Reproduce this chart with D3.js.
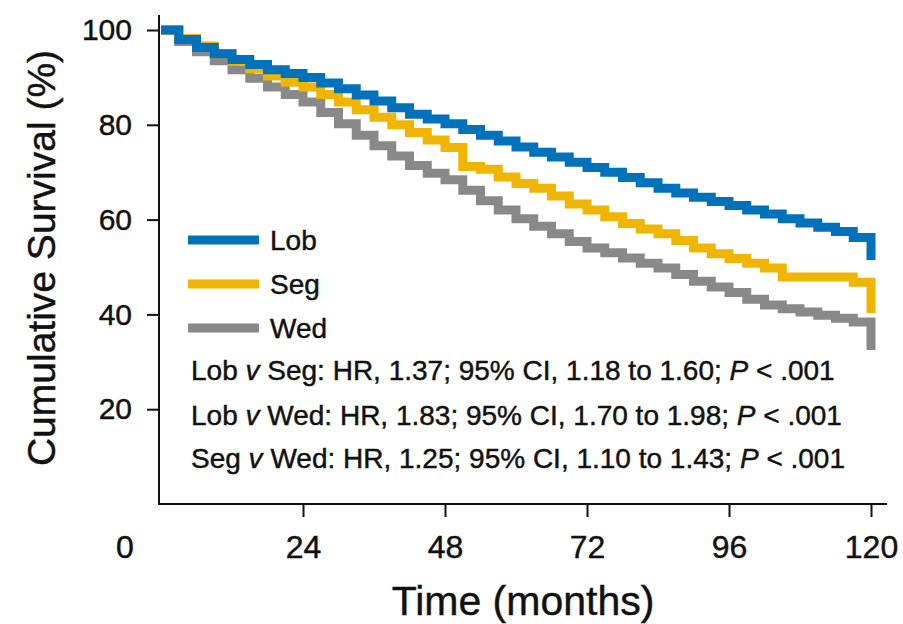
<!DOCTYPE html>
<html>
<head>
<meta charset="utf-8">
<script src="https://cdn.jsdelivr.net/npm/d3@7"></script>
<style>
  html, body { margin: 0; padding: 0; background: #fff; }
  svg { display: block; font-family: "Liberation Sans", Arial, Helvetica, sans-serif; }
  text { stroke: #111; stroke-width: 0.45px; paint-order: stroke; }
</style>
</head>
<body>
<svg id="chart" width="903" height="624"></svg>
<script>
// ---- data ----
const months = [0,3,6,9,12,15,18,21,24,27,30,33,36,39,42,45,48,51,54,57,60,63,66,69,72,75,78,81,84,87,90,93,96,99,102,105,108,111,114,117,120];
const lob = [100,98,96.3,95,93.8,92.7,91.6,90.8,90,88.8,87.6,86.3,85,83.6,82.2,81.2,80.2,79,77.8,76.6,75.3,74.2,73.2,72.1,71,70,68.9,67.8,66.6,65.6,64.7,63.8,63,62,61.2,60.2,59.3,58.4,57.5,56.2,51.5];
const seg = [100,98.2,96.6,95,93.4,91.8,90.3,89,88,86.4,84.8,83.2,81.6,80,78.4,76.8,75.2,71.2,70.6,69,67.6,66.6,65,63.3,62,60.6,59.2,58,57,55.6,54,52.8,51.8,50.8,49.8,47.9,47.9,47.9,47.9,46.8,40.3];
const wed = [100,97.6,95.4,93.5,91.6,89.8,88,86.4,84.8,82.6,80.2,77.8,75.6,73.4,71.4,69.8,68.4,66.2,64,62,60.2,58.6,57,55.4,54,53,51.9,50.8,49.8,48.4,47,45.8,44.6,43.2,42,41.2,40.5,39.8,39.2,38.4,32.5];
const seriesNames = ["Lob", "Seg", "Wed"];
const seriesColors = ["#0072bc", "#efb500", "#898989"];
const xTicks = [24, 48, 72, 96, 120];
const yTicks = [20, 40, 60, 80, 100];
const annotations = [
  ["Lob ", "v", " Seg: HR, 1.37; 95% CI, 1.18 to 1.60; ", "P", " < .001"],
  ["Lob ", "v", " Wed: HR, 1.83; 95% CI, 1.70 to 1.98; ", "P", " < .001"],
  ["Seg ", "v", " Wed: HR, 1.25; 95% CI, 1.10 to 1.43; ", "P", " < .001"]
];

const svg = d3.select("#chart");
const textColor = "#111";

const x = d3.scaleLinear().domain([0, 120]).range([161, 871]);
const y = d3.scaleLinear().domain([0, 100]).range([504, 30]);

// axes
const yAxis = d3.axisLeft(y).tickValues(yTicks).tickSize(12).tickPadding(15).tickFormat(d3.format("d"));
const gy = svg.append("g").attr("transform", "translate(159,0)").call(yAxis);
gy.select(".domain").remove();
gy.selectAll(".tick line").attr("stroke", "#111").attr("stroke-width", 2);
gy.selectAll(".tick text").attr("fill", textColor).style("font-size", "30px")
  .style("font-family", "'Liberation Sans', Arial, sans-serif");

const xAxis = d3.axisBottom(x).tickValues(xTicks).tickSize(13).tickPadding(18).tickFormat(d3.format("d"));
const gx = svg.append("g").attr("transform", "translate(0,504)").call(xAxis);
gx.select(".domain").remove();
gx.selectAll(".tick line").attr("stroke", "#111").attr("stroke-width", 2);
gx.selectAll(".tick text").attr("fill", textColor).style("font-size", "32px")
  .style("font-family", "'Liberation Sans', Arial, sans-serif");

svg.append("line").attr("x1", 159).attr("x2", 159).attr("y1", 15).attr("y2", 505)
  .attr("stroke", "#111").attr("stroke-width", 2);
svg.append("line").attr("x1", 158).attr("x2", 887).attr("y1", 504).attr("y2", 504)
  .attr("stroke", "#111").attr("stroke-width", 2);

// corner zero label
svg.append("text").attr("x", 125).attr("y", 558).attr("text-anchor", "middle")
  .attr("fill", textColor).style("font-size", "32px").text("0");

// titles
svg.append("text").attr("x", 523).attr("y", 615).attr("text-anchor", "middle")
  .attr("fill", textColor).style("font-size", "41px").text("Time (months)");
svg.append("text").attr("transform", "translate(55,258) rotate(-90)").attr("text-anchor", "middle")
  .attr("fill", textColor).style("font-size", "39px").text("Cumulative Survival (%)");

// curves
const allSeries = [lob, seg, wed];
const line = d3.line().x((d, i) => x(months[i])).y(d => y(d)).curve(d3.curveStepAfter);
// draw in reverse so Lob is on top
[2, 1, 0].forEach(k => {
  svg.append("path").datum(allSeries[k]).attr("d", line)
    .attr("fill", "none").attr("stroke", seriesColors[k]).attr("stroke-width", 9)
    .attr("stroke-linejoin", "miter").attr("stroke-linecap", "butt");
});

// legend
const legendY = [240, 284, 328];
seriesNames.forEach((name, i) => {
  svg.append("line").attr("x1", 188).attr("x2", 259).attr("y1", legendY[i]).attr("y2", legendY[i])
    .attr("stroke", seriesColors[i]).attr("stroke-width", 9);
  svg.append("text").attr("x", 270).attr("y", legendY[i] + 10).attr("fill", textColor)
    .style("font-size", "28px").text(name);
});

// annotations
const annY = [380, 425, 468];
annotations.forEach((parts, i) => {
  const t = svg.append("text").attr("x", 191).attr("y", annY[i]).attr("fill", textColor)
    .style("font-size", "28px");
  parts.forEach((p, j) => {
    t.append("tspan").attr("font-style", (j === 1 || j === 3) ? "italic" : "normal").text(p);
  });
});
</script>
</body>
</html>
